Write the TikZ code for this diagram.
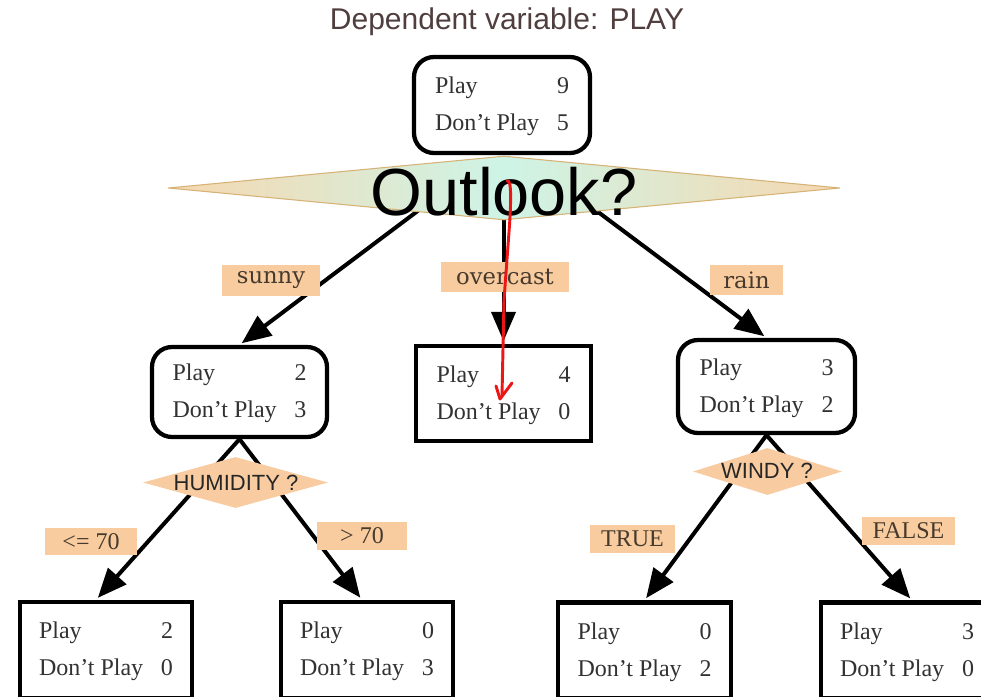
\documentclass[tikz,border=0pt]{standalone}
\usepackage{fontspec}
\setmainfont{Liberation Serif}
\newfontfamily\sansf{Liberation Sans}
\newfontfamily\lowf{DejaVu Serif}
\usetikzlibrary{arrows.meta,shapes.geometric,calc}
\definecolor{lblfill}{RGB}{249,204,160}
\definecolor{decfill}{RGB}{248,204,160}
\definecolor{titlecol}{RGB}{80,62,62}
\definecolor{peach}{RGB}{246,216,176}
\definecolor{aqua}{RGB}{206,244,230}
\definecolor{tan}{RGB}{214,178,118}
\definecolor{boxtext}{RGB}{50,50,50}
\definecolor{lbltext}{RGB}{70,58,44}
\definecolor{annred}{RGB}{236,22,22}
\newcommand\counts[2]{\begin{tabular*}{100.5pt}{@{}l@{\extracolsep{\fill}}r@{}}Play & #1\\Don't Play & #2\end{tabular*}}
\tikzset{
  stat/.style={draw=black, line width=3.2pt, fill=white, inner sep=0pt, rounded corners=15pt,
    text=boxtext, font=\fontsize{18}{27.75}\selectfont},
  statsq/.style={stat, rounded corners=0pt},
  lbl/.style={fill=lblfill, inner sep=0pt, text=lbltext, font=\fontsize{18}{22}\selectfont},
  lbllow/.style={lbl, font=\lowf\fontsize{17}{22}\selectfont},
  edge/.style={draw=black, line width=3pt, -{Triangle[length=22pt,width=18pt]}, shorten >=2pt},
  hdec/.style={shape=diamond, fill=decfill, inner sep=0pt},
  dectext/.style={font=\sansf\fontsize{16.5}{20}\selectfont, text=black!85},
  ann/.style={draw=annred, line width=2.2pt, line cap=round, line join=round}
}
\begin{document}
\begin{tikzpicture}[x=0.75pt,y=-0.75pt]
\useasboundingbox (0,0) rectangle (981,696);
\clip (0,0) rectangle (981,696);

% title
\node[font=\sansf\fontsize{22.5}{27}\selectfont, text=titlecol] (title) at (507,22) {Dependent variable: PLAY};

% stat boxes
\node[stat, minimum width=132pt, minimum height=72pt] (root) at (502,105) {\counts{9}{5}};
\node[stat, minimum width=131.25pt, minimum height=67.5pt] (sunny) at (239.5,392) {\counts{2}{3}};
\node[statsq, minimum width=131.25pt, minimum height=71.25pt] (over) at (503.5,393.5) {\counts{4}{0}};
\node[stat, minimum width=132.75pt, minimum height=69.75pt] (rain) at (766.5,386.5) {\counts{3}{2}};
\node[statsq, minimum width=129pt, minimum height=72pt] (l1) at (106,650) {\counts{2}{0}};
\node[statsq, minimum width=129pt, minimum height=72pt] (l2) at (367,650) {\counts{0}{3}};
\node[statsq, minimum width=129.75pt, minimum height=72pt] (l3) at (644.5,650.5) {\counts{0}{2}};
\node[statsq, minimum width=129pt, minimum height=72pt] (l4) at (907,650.5) {\counts{3}{0}};

% edges
\draw[edge, shorten <=12pt] ($(root.south)+(-10,0)$) -- (sunny.north);
\draw[edge, shorten <=12pt] (over.north |- root.south) -- (over.north);
\draw[edge, shorten <=12pt] ($(root.south)+(20,0)$) -- (rain.north);
\draw[edge] (sunny.south) -- ($(l1.north)+(-10,0)$);
\draw[edge] (sunny.south) -- ($(l2.north)+(-5,0)$);
\draw[edge] (rain.south) -- (l3.north);
\draw[edge] (rain.south) -- ($(l4.north)+(5,0)$);

% Outlook diamond
\node[shape=diamond, inner sep=0pt, minimum width=504pt, minimum height=48pt,
  left color=peach, right color=peach, middle color=aqua, draw=tan, line width=0.8pt] (outlook) at (504,188) {};
\node[font=\sansf\fontsize{50}{60}\selectfont, anchor=base, text=black] (outlooktxt) at (504,215) {Outlook?};

% decision diamonds
\node[hdec, minimum width=138.75pt, minimum height=38.25pt] (hum) at (235.5,482.5) {};
\node[dectext, anchor=base] (humtxt) at (236,490) {HUMIDITY ?};
\node[hdec, minimum width=111.75pt, minimum height=35.25pt] (windy) at (767.5,471.5) {};
\node[dectext, anchor=base] (windytxt) at (767,478) {WINDY ?};

% edge labels
\node[lbllow, minimum width=73.5pt, minimum height=23.25pt] (lsunny) at (271,280) {sunny};
\node[lbllow, minimum width=96pt, minimum height=22.5pt] (lover) at (505,277) {overcast};
\node[lbllow, minimum width=54.75pt, minimum height=22.5pt] (lrain) at (746.5,280) {rain};
\node[lbl, minimum width=69pt, minimum height=20.25pt] (lle) at (91,541.5) {<= 70};
\node[lbl, minimum width=67.5pt, minimum height=21pt] (lgt) at (362,536) {> 70};
\node[lbl, minimum width=63.75pt, minimum height=21pt] (ltrue) at (632.5,539) {TRUE};
\node[lbl, minimum width=69.75pt, minimum height=21pt] (lfalse) at (908.5,531) {FALSE};

% red hand-drawn annotation
\coordinate (a0) at (507,181);
\coordinate (a1) at (509,232);
\coordinate (a2) at (502,396);
\draw[ann] (a0) .. controls (512,178) and (511,205) .. (a1) -- (504,300) -- (a2);
\coordinate (ah1) at (496,386);
\coordinate (ah2) at (512,383);
\draw[ann] (ah1) -- (500,399) -- (ah2);
\end{tikzpicture}
\end{document}
